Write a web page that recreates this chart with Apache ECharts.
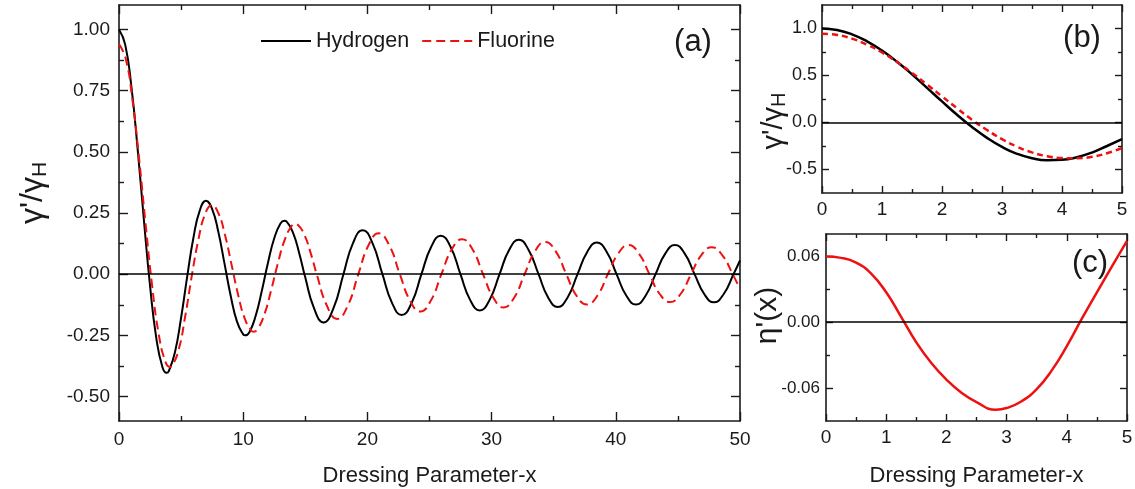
<!DOCTYPE html>
<html><head><meta charset="utf-8">
<script src="https://cdn.jsdelivr.net/npm/echarts@6/dist/echarts.min.js"></script>
<style>html,body{margin:0;padding:0;background:#fff}#c{width:1135px;height:489px}</style>
</head><body><div id="c"></div>
<script>
// ---------- data ----------
const hydrogenA = [[0,1],[0.5,0.938],[1,0.765],[1.5,0.512],[2,0.224],[2.5,-0.048],[3,-0.26],[3.5,-0.38],[3.832,-0.403],[4,-0.397],[4.5,-0.32],[5,-0.178],[5.5,-0.007],[6,0.151],[6.5,0.26],[7,0.3],[7.5,0.266],[8,0.172],[8.5,0.042],[9,-0.09],[9.5,-0.194],[10,-0.246],[10.17,-0.25],[10.5,-0.237],[11,-0.171],[11.5,-0.068],[12,0.048],[12.5,0.147],[13,0.207],[13.32,0.218],[13.5,0.215],[14,0.171],[14.5,0.088],[15,-0.014],[15.7,-0.139],[16.47,-0.197],[17.27,-0.139],[18.07,0],[18.84,0.127],[19.62,0.18],[20.41,0.127],[21.21,0],[21.99,-0.118],[22.76,-0.167],[23.56,-0.118],[24.35,0],[25.13,0.111],[25.9,0.157],[26.7,0.111],[27.49,0],[28.27,-0.105],[29.05,-0.148],[29.84,-0.105],[30.64,0],[31.41,0.099],[32.19,0.141],[32.98,0.099],[33.78,0],[34.55,-0.095],[35.33,-0.134],[36.12,-0.095],[36.92,0],[37.7,0.091],[38.47,0.129],[39.27,0.091],[40.06,0],[40.84,-0.087],[41.62,-0.124],[42.41,-0.087],[43.2,0],[43.98,0.084],[44.76,0.119],[45.55,0.084],[46.34,0],[47.12,-0.081],[47.9,-0.115],[48.69,-0.081],[49.48,0],[50,0.056]];
const fluorineA = [[0,0.94],[0.533,0.882],[1.066,0.719],[1.599,0.481],[2.132,0.21],[2.665,-0.046],[3.198,-0.245],[3.731,-0.357],[4.085,-0.379],[4.264,-0.375],[4.797,-0.31],[5.33,-0.172],[5.864,-0.006],[6.397,0.142],[6.93,0.245],[7.463,0.282],[7.996,0.25],[8.529,0.161],[9.062,0.039],[9.595,-0.085],[10.128,-0.182],[10.661,-0.231],[10.842,-0.235],[11.194,-0.222],[11.727,-0.161],[12.26,-0.064],[12.793,0.045],[13.326,0.138],[13.859,0.194],[14.2,0.205],[14.392,0.202],[14.925,0.161],[15.458,0.082],[15.918,0],[16.74,-0.129],[17.56,-0.183],[18.415,-0.129],[19.27,0],[20.09,0.118],[20.91,0.167],[21.76,0.118],[22.61,0],[23.435,-0.108],[24.26,-0.153],[25.11,-0.108],[25.96,0],[26.79,0.101],[27.62,0.143],[28.465,0.101],[29.31,0],[30.14,-0.096],[30.97,-0.136],[31.815,-0.096],[32.66,0],[33.49,0.093],[34.32,0.132],[35.165,0.093],[36.01,0],[36.84,-0.088],[37.67,-0.124],[38.515,-0.088],[39.36,0],[40.19,0.084],[41.02,0.119],[41.865,0.084],[42.71,0],[43.54,-0.081],[44.37,-0.114],[45.215,-0.081],[46.06,0],[46.89,0.078],[47.72,0.11],[48.565,0.078],[49.41,0],[50,-0.06]];
const hydrogenB = [[0,1],[0.25,0.984],[0.5,0.938],[0.75,0.864],[1,0.765],[1.25,0.646],[1.5,0.512],[1.75,0.369],[2,0.224],[2.25,0.083],[2.5,-0.048],[2.75,-0.164],[3,-0.26],[3.25,-0.333],[3.5,-0.38],[3.75,-0.401],[4,-0.397],[4.25,-0.369],[4.5,-0.32],[4.75,-0.25],[5,-0.178]];
const fluorineB = [[0,0.945],[0.25,0.932],[0.5,0.892],[0.75,0.828],[1,0.745],[1.25,0.643],[1.5,0.528],[1.75,0.405],[2,0.278],[2.25,0.152],[2.5,0.03],[2.75,-0.08],[3,-0.177],[3.25,-0.257],[3.5,-0.318],[3.75,-0.358],[4,-0.378],[4.25,-0.38],[4.5,-0.365],[4.75,-0.327],[5,-0.272]];
const etaC = [[0,0.0595],[0.25,0.0583],[0.5,0.054],[0.75,0.044],[1,0.027],[1.25,0.0045],[1.5,-0.0185],[1.75,-0.0373],[2,-0.0523],[2.25,-0.0643],[2.5,-0.0728],[2.82,-0.0798],[3,-0.0782],[3.25,-0.072],[3.5,-0.061],[3.75,-0.044],[4,-0.022],[4.25,0.003],[4.5,0.027],[4.75,0.0505],[5,0.0737]];

const xTicksA = [0,10,20,30,40,50];
const xMinorA = [5,15,25,35,45];
const yTicksA = [-0.5,-0.25,0,0.25,0.5,0.75,1.0];
const yMinorA = [-0.375,-0.125,0.125,0.375,0.625,0.875];
const xTicksBC = [0,1,2,3,4,5];
const xMinorBC = [0.5,1.5,2.5,3.5,4.5];
const yTicksB = [-0.5,0,0.5,1.0];
const yMinorB = [-0.25,0.25,0.75];
const yTicksC = [-0.06,0,0.06];
const yMinorC = [-0.03,0.03];

// ---------- layout / style ----------
const FONT = "'Liberation Sans', Arial, Helvetica, sans-serif";
const INK = '#1a1a1a';
const RED = '#ee1111';
const xAxes = [], yAxes = [];

function addAxis(list, o) {
  list.push({
    type: 'value', gridIndex: o.grid, position: o.pos, min: o.min, max: o.max,
    axisLine: { show: !!o.line, onZero: false, lineStyle: { color: INK, width: 1.6 } },
    axisTick: { show: true, inside: true, length: o.len, customValues: o.ticks,
                lineStyle: { color: INK, width: 1.4 } },
    axisLabel: { show: !!o.fmt, customValues: o.ticks, formatter: o.fmt, fontSize: o.fs || 18,
                 fontFamily: FONT, color: INK, margin: o.margin || 8 },
    splitLine: { show: false }, minorTick: { show: false },
    name: o.name || '', nameLocation: 'middle', nameGap: o.nameGap || 0, nameMoveOverlap: false,
    nameTextStyle: o.nameStyle || {}
  });
  return list.length - 1;
}
function frame(grid, xr, yr, xt, xm, yt, ym, majLen, minLen, xfmt, yfmt, xfs, yfs, xmar, ymar, xname, xgap, yname, ygap, ystyle) {
  const xi = addAxis(xAxes, { grid, pos: 'bottom', min: xr[0], max: xr[1], ticks: xt, len: majLen, line: true,
    fmt: xfmt, fs: xfs, margin: xmar, name: xname, nameGap: xgap,
    nameStyle: xname ? { fontFamily: FONT, fontSize: 22, color: INK } : {} });
  addAxis(xAxes, { grid, pos: 'bottom', min: xr[0], max: xr[1], ticks: xm, len: minLen });
  addAxis(xAxes, { grid, pos: 'top', min: xr[0], max: xr[1], ticks: xt, len: majLen, line: true });
  addAxis(xAxes, { grid, pos: 'top', min: xr[0], max: xr[1], ticks: xm, len: minLen });
  const yi = addAxis(yAxes, { grid, pos: 'left', min: yr[0], max: yr[1], ticks: yt, len: majLen, line: true,
    fmt: yfmt, fs: yfs, margin: ymar, name: yname, nameGap: ygap, nameStyle: ystyle });
  addAxis(yAxes, { grid, pos: 'left', min: yr[0], max: yr[1], ticks: ym, len: minLen });
  addAxis(yAxes, { grid, pos: 'right', min: yr[0], max: yr[1], ticks: yt, len: majLen, line: true });
  addAxis(yAxes, { grid, pos: 'right', min: yr[0], max: yr[1], ticks: ym, len: minLen });
  return [xi, yi];
}

const gammaStyle = (fs, sub, pad, shift) => ({
  fontFamily: FONT, fontSize: fs, color: INK, padding: shift,
  rich: {
    g: { fontFamily: FONT, fontSize: fs, color: INK, lineHeight: fs, verticalAlign: 'top' },
    s: { fontFamily: FONT, fontSize: sub, color: INK, lineHeight: sub, padding: [pad, 0, 0, 0] }
  }
});

const [axA, ayA] = frame(0, [0, 50], [-0.6, 1.1], xTicksA, xMinorA, yTicksA, yMinorA, 9, 5,
  v => String(Math.round(v)), v => v.toFixed(2), 19, 19, 9, 9,
  'Dressing Parameter-x', 44, "{g|γ'/γ}{s|H}", 70, gammaStyle(32, 21, 14, [0, 0, 0, 40]));
const [axB, ayB] = frame(1, [0, 5], [-0.75, 1.25], xTicksBC, xMinorBC, yTicksB, yMinorB, 7, 4,
  v => String(Math.round(v)), v => v.toFixed(1), 19, 18, 7, 5,
  '', 0, "{g|γ'/γ}{s|H}", 34, gammaStyle(29, 20, 12, [0, 44, 0, 0]));
const [axC, ayC] = frame(2, [0, 5], [-0.09, 0.08], xTicksBC, xMinorBC, yTicksC, yMinorC, 7, 4,
  v => String(Math.round(v)), v => v.toFixed(2), 19, 17, 7, 6,
  'Dressing Parameter-x', 44, "η'(x)", 43, { fontFamily: FONT, fontSize: 30, color: INK, padding: [0, 0, 0, 24] });

const zeroLine = { silent: true, symbol: ['none', 'none'], label: { show: false },
  lineStyle: { color: '#000', width: 1.5, type: 'solid' }, data: [{ yAxis: 0 }], animation: false };

const SMOOTH = 0.5;
const option = {
  animation: false,
  backgroundColor: '#fff',
  grid: [
    { left: 119, top: 5, width: 621, height: 416, outerBoundsMode: 'none', containLabel: false },
    { left: 822, top: 5, width: 300, height: 188, outerBoundsMode: 'none', containLabel: false },
    { left: 826, top: 234, width: 301, height: 187, outerBoundsMode: 'none', containLabel: false }
  ],
  xAxis: xAxes,
  yAxis: yAxes,
  legend: {
    data: ['Hydrogen', 'Fluorine'], left: 260, top: 30, padding: 0, itemWidth: 50, itemHeight: 14, itemGap: 12,
    itemStyle: { opacity: 0 },
    textStyle: { fontFamily: FONT, fontSize: 21.5, color: INK }
  },
  graphic: [
    { type: 'text', style: { text: '(a)', x: 693, y: 42, align: 'center', verticalAlign: 'middle', fontSize: 31, fontFamily: FONT, fill: INK } },
    { type: 'text', style: { text: '(b)', x: 1082, y: 38, align: 'center', verticalAlign: 'middle', fontSize: 31, fontFamily: FONT, fill: INK } },
    { type: 'text', style: { text: '(c)', x: 1090, y: 263, align: 'center', verticalAlign: 'middle', fontSize: 31, fontFamily: FONT, fill: INK } }
  ],
  series: [
    { name: 'Hydrogen', type: 'line', xAxisIndex: axA, yAxisIndex: ayA, data: hydrogenA, smooth: SMOOTH, symbol: 'none',
      lineStyle: { color: '#000', width: 2 }, itemStyle: { color: '#000' }, markLine: zeroLine, z: 3 },
    { name: 'Fluorine', type: 'line', xAxisIndex: axA, yAxisIndex: ayA, data: fluorineA, smooth: SMOOTH, symbol: 'none',
      lineStyle: { color: RED, width: 2, type: [9, 5] }, itemStyle: { color: RED }, z: 4 },
    { name: 'Hydrogen', type: 'line', xAxisIndex: axB, yAxisIndex: ayB, data: hydrogenB, smooth: SMOOTH, symbol: 'none',
      lineStyle: { color: '#000', width: 2.5 }, itemStyle: { color: '#000' }, markLine: zeroLine, z: 3 },
    { name: 'Fluorine', type: 'line', xAxisIndex: axB, yAxisIndex: ayB, data: fluorineB, smooth: SMOOTH, symbol: 'none',
      lineStyle: { color: RED, width: 2.5, type: [6, 4] }, itemStyle: { color: RED }, z: 4 },
    { name: 'eta', type: 'line', xAxisIndex: axC, yAxisIndex: ayC, data: etaC, smooth: SMOOTH, symbol: 'none',
      lineStyle: { color: RED, width: 2.5 }, itemStyle: { color: RED }, markLine: zeroLine, z: 3 }
  ]
};
const chart = echarts.init(document.getElementById('c'), null, { renderer: 'canvas' });
chart.setOption(option);
</script></body></html>
